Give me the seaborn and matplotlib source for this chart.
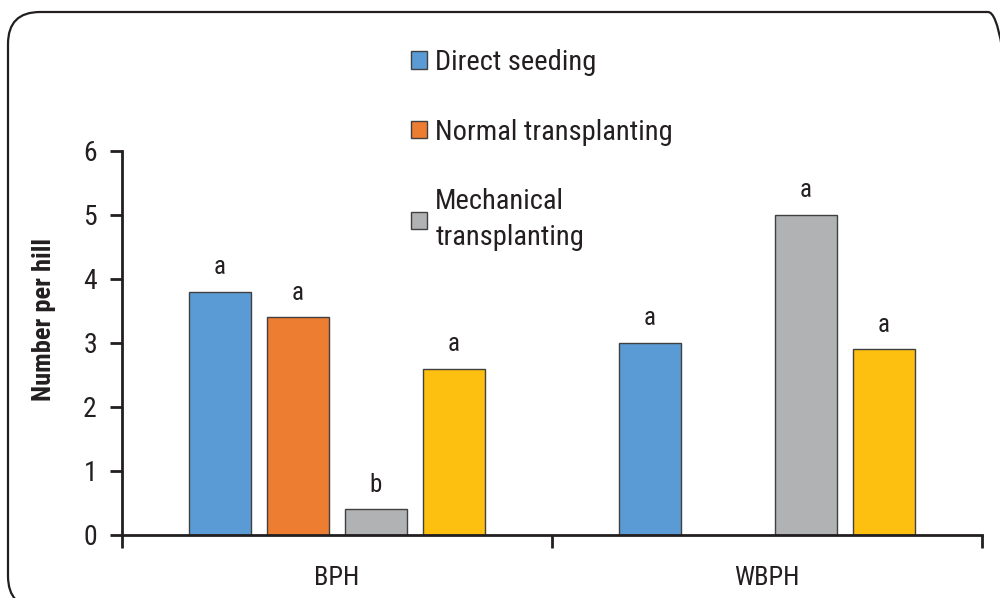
import matplotlib
matplotlib.use("Agg")
import matplotlib.pyplot as plt
from matplotlib.patches import FancyBboxPatch, Patch
from matplotlib.ticker import FixedLocator
import seaborn as sns
import pandas as pd
import numpy as np

# ---- data ----
categories = ["BPH", "WBPH"]
methods = ["Direct seeding", "Normal transplanting", "Mechanical\ntransplanting", "Other"]
direct_seeding = [3.8, 3.0]
normal_transplanting = [3.4, np.nan]
mechanical_transplanting = [0.4, 5.0]
other = [2.6, 2.9]
letters_direct = ["a", "a"]
letters_normal = ["a", ""]
letters_mech = ["b", "a"]
letters_other = ["a", "a"]
yticks = [0, 1, 2, 3, 4, 5, 6]
colors = ["#5B9BD5", "#ED7D31", "#B1B2B4", "#FDC010"]

rows = []
for m, vals, lets in zip(methods,
                         [direct_seeding, normal_transplanting, mechanical_transplanting, other],
                         [letters_direct, letters_normal, letters_mech, letters_other]):
    for c, v, l in zip(categories, vals, lets):
        rows.append({"Pest": c, "Method": m, "Value": v, "Letter": l})
df = pd.DataFrame(rows)

sns.set_theme(style="white")
plt.rcParams["font.family"] = ["Roboto Condensed", "DejaVu Sans"]
plt.rcParams["font.weight"] = "normal"
ink = "#231F20"

fig = plt.figure(figsize=(10, 5.98), dpi=100)
ax = fig.add_axes([0.122, 0.1054, 0.86, 0.6421])

sns.barplot(data=df, x="Pest", y="Value", hue="Method", order=categories,
            hue_order=methods, palette=colors, saturation=1, width=0.725, gap=0.2,
            edgecolor="#404040", linewidth=1.0, errorbar=None, legend=False, ax=ax)

for i, m in enumerate(methods):
    cont = ax.containers[i]
    sub = df[df["Method"] == m].set_index("Pest").loc[categories]
    labs = [l for l, v in zip(sub["Letter"], sub["Value"]) if not np.isnan(v)]
    ax.bar_label(cont, labels=labs, padding=9, fontsize=18, color=ink)

ax.set_xlim(-0.5, 1.5)
ax.set_ylim(0, 6)
ax.set_yticks(yticks)
ax.set_yticklabels([str(t) for t in yticks])
ax.set_xticks(range(len(categories)))
ax.set_xticklabels(categories)
ax.xaxis.set_minor_locator(FixedLocator([-0.5, 0.5, 1.5]))
ax.tick_params(axis="x", which="major", length=0, pad=22, labelsize=19, labelcolor=ink)
ax.tick_params(axis="x", which="minor", length=9, width=2, color=ink, direction="out", bottom=True)
ax.tick_params(axis="y", which="major", length=9, width=2, color=ink, direction="out",
               left=True, pad=9, labelsize=20, labelcolor=ink)
ax.set_xlabel("")
ax.set_ylabel("Number per hill", fontsize=19, fontweight="bold", color=ink)
ax.yaxis.set_label_coords(-0.077, 0.56)
for s in ["top", "right"]:
    ax.spines[s].set_visible(False)
for s in ["left", "bottom"]:
    ax.spines[s].set_color(ink)
    ax.spines[s].set_linewidth(2)

handles = [Patch(facecolor=colors[i], edgecolor="#404040", linewidth=1.0) for i in range(3)]
leg = fig.legend(handles, methods[:3], loc="upper left", bbox_to_anchor=(0.411, 0.918),
                 frameon=False, fontsize=20.5, handlelength=0.55, handleheight=0.55,
                 handletextpad=0.3, labelspacing=1.5, borderpad=0, borderaxespad=0)
for t in leg.get_texts():
    t.set_color(ink)
    t.set_linespacing(1.4)

frame = FancyBboxPatch((0.08, -0.10), 10.12, 5.96, boxstyle="round,pad=0,rounding_size=0.32",
                       transform=fig.dpi_scale_trans, facecolor="none", edgecolor=ink,
                       linewidth=1.6, clip_on=False)
fig.patches.append(frame)

fig.savefig("out.png", dpi=100)
